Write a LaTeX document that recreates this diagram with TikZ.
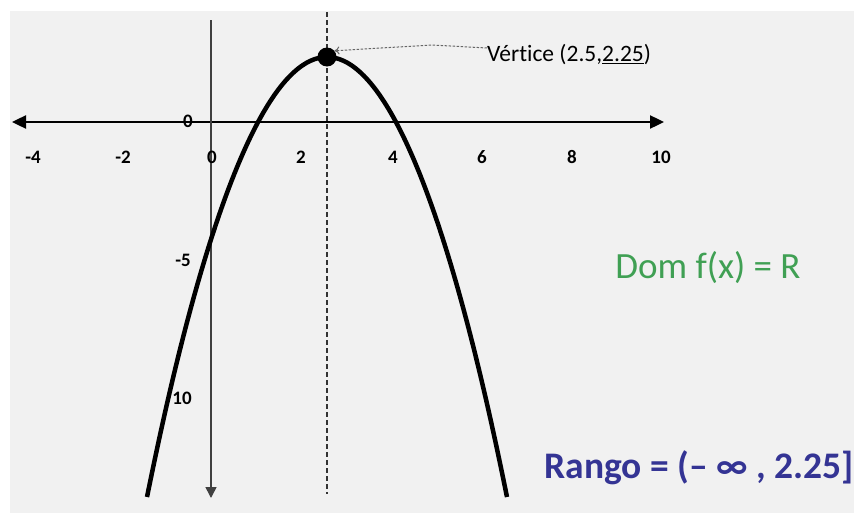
\documentclass[tikz,border=0pt]{standalone}
\usepackage{fontspec}
\setmainfont{Carlito}[Ligatures=NoCommon]
\usetikzlibrary{arrows.meta, positioning, calc}
\definecolor{paper}{RGB}{241,241,241}
\definecolor{domgreen}{RGB}{64,160,84}
\definecolor{rangoblue}{RGB}{52,52,148}

\begin{document}
\begin{tikzpicture}[
    x=1pt, y=-1pt,
    axis/.style={draw, line width=2.4pt, {Triangle[length=14pt, width=13pt]}-{Triangle[length=14pt, width=13pt]}},
    yaxis/.style={draw, line width=1.6pt, black!75, -{Triangle[length=11pt, width=11pt]}},
    curve/.style={draw, line width=4.5pt},
    guide/.style={draw, line width=1.2pt, black!80, dash pattern=on 5pt off 3pt},
    pointer/.style={draw, line width=1pt, black!60, dash pattern=on 2.5pt off 1.5pt, -{To[length=5pt, width=8pt]}},
    tick/.style={font=\fontsize{19}{19}\selectfont\bfseries, inner sep=0pt},
    note/.style={font=\fontsize{23.5}{23.5}\selectfont, inner sep=0pt}
]

% frame
\useasboundingbox (0,0) rectangle (854,514);
\fill[white] (0,0) rectangle (854,514);
\fill[paper] (10,11) rectangle (854,513);

% axes
\coordinate (xl) at (12,122);
\coordinate (xr) at (664,122);
\coordinate (yt) at (211,20);
\coordinate (yb) at (211,498);
\path [axis] (xl) -- (xr);
\path [yaxis] (yt) -- (yb);

% axis of symmetry
\coordinate (gtop) at (327,12);
\coordinate (gbot) at (327,494);
\path [guide] (gtop) -- (gbot);

% parabola
\path [curve] (147,497) parabola bend (327,57) (507,497);
\node [circle, fill, inner sep=0pt, minimum size=19pt] (vtx) at (327,57) {};

% tick labels
\foreach \val/\px [count=\i] in {-4/33, -2/123, 0/212, 2/301, 4/393, 6/482, 8/572, 10/661}
    \node [tick] (xt\i) at (\px,157) {\val};
\node [tick] (y0) at (188,121) {0};
\node [tick] (y5) at (183,260) {-5};
\node [tick] (y10) at (182,398) {10};

% vertex note
\node [note, anchor=west] (vlabel) at (487,55) {Vértice (2.5,\underline{2.25})};
\coordinate (kink) at (432,45);
\path [pointer] ([yshift=7pt]vlabel.west) -- (kink) -- (vtx.40);

% domain and range
\node [font=\fontsize{37}{37}\selectfont, text=domgreen, inner sep=0pt] (dom) at (708,268) {Dom f(x) = R};
\node [font=\fontsize{37.5}{37.5}\selectfont\bfseries, text=rangoblue, inner sep=0pt] (rango) at (699,468) {Rango = (– ∞ , 2.25]};

\end{tikzpicture}
\end{document}
